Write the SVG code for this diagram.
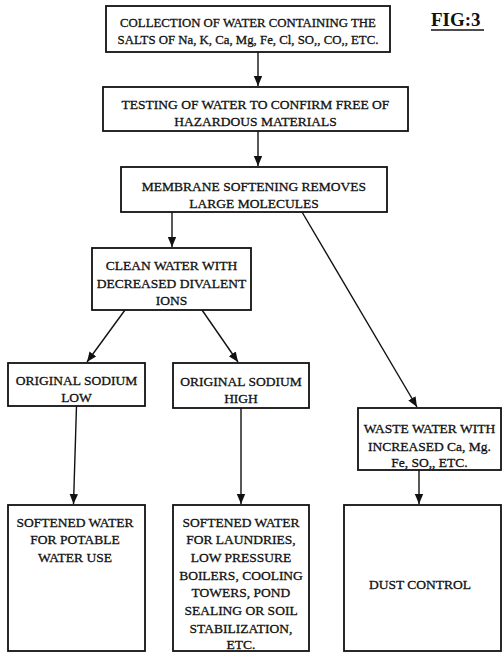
<svg xmlns="http://www.w3.org/2000/svg" width="502" height="653" viewBox="0 0 502 653">
<defs>
<marker id="ah" markerUnits="userSpaceOnUse" markerWidth="10" markerHeight="10" viewBox="0 0 10 10" refX="10" refY="5" orient="auto">
<path d="M0,0.8 L10,5 L0,9.2 Z" fill="#111"/>
</marker>
<style>
.box{fill:#fff;stroke:#111;stroke-width:1.8}
.t{font-family:"Liberation Serif","Times New Roman",serif;font-size:13.5px;fill:#111;stroke:#111;stroke-width:0.3;text-anchor:middle}
.s{font-size:12.8px}
.c{stroke:#111;stroke-width:1.4;fill:none;marker-end:url(#ah)}
.fig{font-family:"Liberation Serif","Times New Roman",serif;font-size:19px;font-weight:bold;fill:#111}
</style>
</defs>
<rect width="502" height="653" fill="#fff"/>
<g id="connectors">
<line class="c" x1="258" y1="52" x2="258" y2="86"/>
<line class="c" x1="258" y1="131" x2="258" y2="166"/>
<line class="c" x1="172" y1="212" x2="172" y2="247"/>
<line class="c" x1="302" y1="212" x2="417" y2="407"/>
<line class="c" x1="125" y1="310" x2="87" y2="362"/>
<line class="c" x1="202" y1="310" x2="238" y2="362"/>
<line class="c" x1="76.5" y1="406" x2="73.5" y2="504"/>
<line class="c" x1="241" y1="408" x2="241" y2="504"/>
<line class="c" x1="419" y1="470" x2="419" y2="504"/>
</g>
<g id="n1">
<rect class="box" x="106" y="6" width="284" height="46"/>
<text class="t s" x="248" y="27">COLLECTION OF WATER CONTAINING THE</text>
<text class="t s" x="248" y="44">SALTS OF Na, K, Ca, Mg, Fe, Cl, SO,, CO,, ETC.</text>
</g>
<g id="fig">
<text class="fig" x="431" y="26">FIG:3</text>
<line x1="431" y1="30" x2="484" y2="30" stroke="#111" stroke-width="1.6"/>
</g>
<g id="n2">
<rect class="box" x="103" y="87" width="305" height="44"/>
<text class="t" x="255.5" y="109">TESTING OF WATER TO CONFIRM FREE OF</text>
<text class="t" x="255.5" y="126">HAZARDOUS MATERIALS</text>
</g>
<g id="n3">
<rect class="box" x="121" y="167" width="266" height="45"/>
<text class="t" x="254" y="191">MEMBRANE SOFTENING REMOVES</text>
<text class="t" x="254" y="208">LARGE MOLECULES</text>
</g>
<g id="n4">
<rect class="box" x="92" y="248" width="159" height="62"/>
<text class="t" x="171.5" y="270">CLEAN WATER WITH</text>
<text class="t" x="171.5" y="288">DECREASED DIVALENT</text>
<text class="t" x="171.5" y="305">IONS</text>
</g>
<g id="n5">
<rect class="box" x="8" y="363" width="137" height="43"/>
<text class="t" x="76.5" y="385">ORIGINAL SODIUM</text>
<text class="t" x="76.5" y="402">LOW</text>
</g>
<g id="n6">
<rect class="box" x="173" y="363" width="136" height="45"/>
<text class="t" x="241" y="386">ORIGINAL SODIUM</text>
<text class="t" x="241" y="403">HIGH</text>
</g>
<g id="n7">
<rect class="box" x="358" y="408" width="143" height="62"/>
<text class="t" x="429.5" y="433">WASTE WATER WITH</text>
<text class="t" x="429.5" y="451">INCREASED Ca, Mg.</text>
<text class="t" x="429.5" y="467">Fe, SO,, ETC.</text>
</g>
<g id="n8">
<rect class="box" x="8" y="505" width="137" height="146"/>
<text class="t" x="75" y="526.5">SOFTENED WATER</text>
<text class="t" x="75" y="544">FOR POTABLE</text>
<text class="t" x="75" y="562">WATER USE</text>
</g>
<g id="n9">
<rect class="box" x="173" y="505" width="136" height="146"/>
<text class="t" x="241" y="526.5">SOFTENED WATER</text>
<text class="t" x="241" y="544">FOR LAUNDRIES,</text>
<text class="t" x="241" y="562">LOW PRESSURE</text>
<text class="t" x="241" y="579.5">BOILERS, COOLING</text>
<text class="t" x="241" y="597">TOWERS, POND</text>
<text class="t" x="241" y="615">SEALING OR SOIL</text>
<text class="t" x="241" y="632.5">STABILIZATION,</text>
<text class="t" x="241" y="649">ETC.</text>
</g>
<g id="n10">
<rect class="box" x="344" y="505" width="157" height="146"/>
<text class="t" x="420" y="589">DUST CONTROL</text>
</g>
</svg>
